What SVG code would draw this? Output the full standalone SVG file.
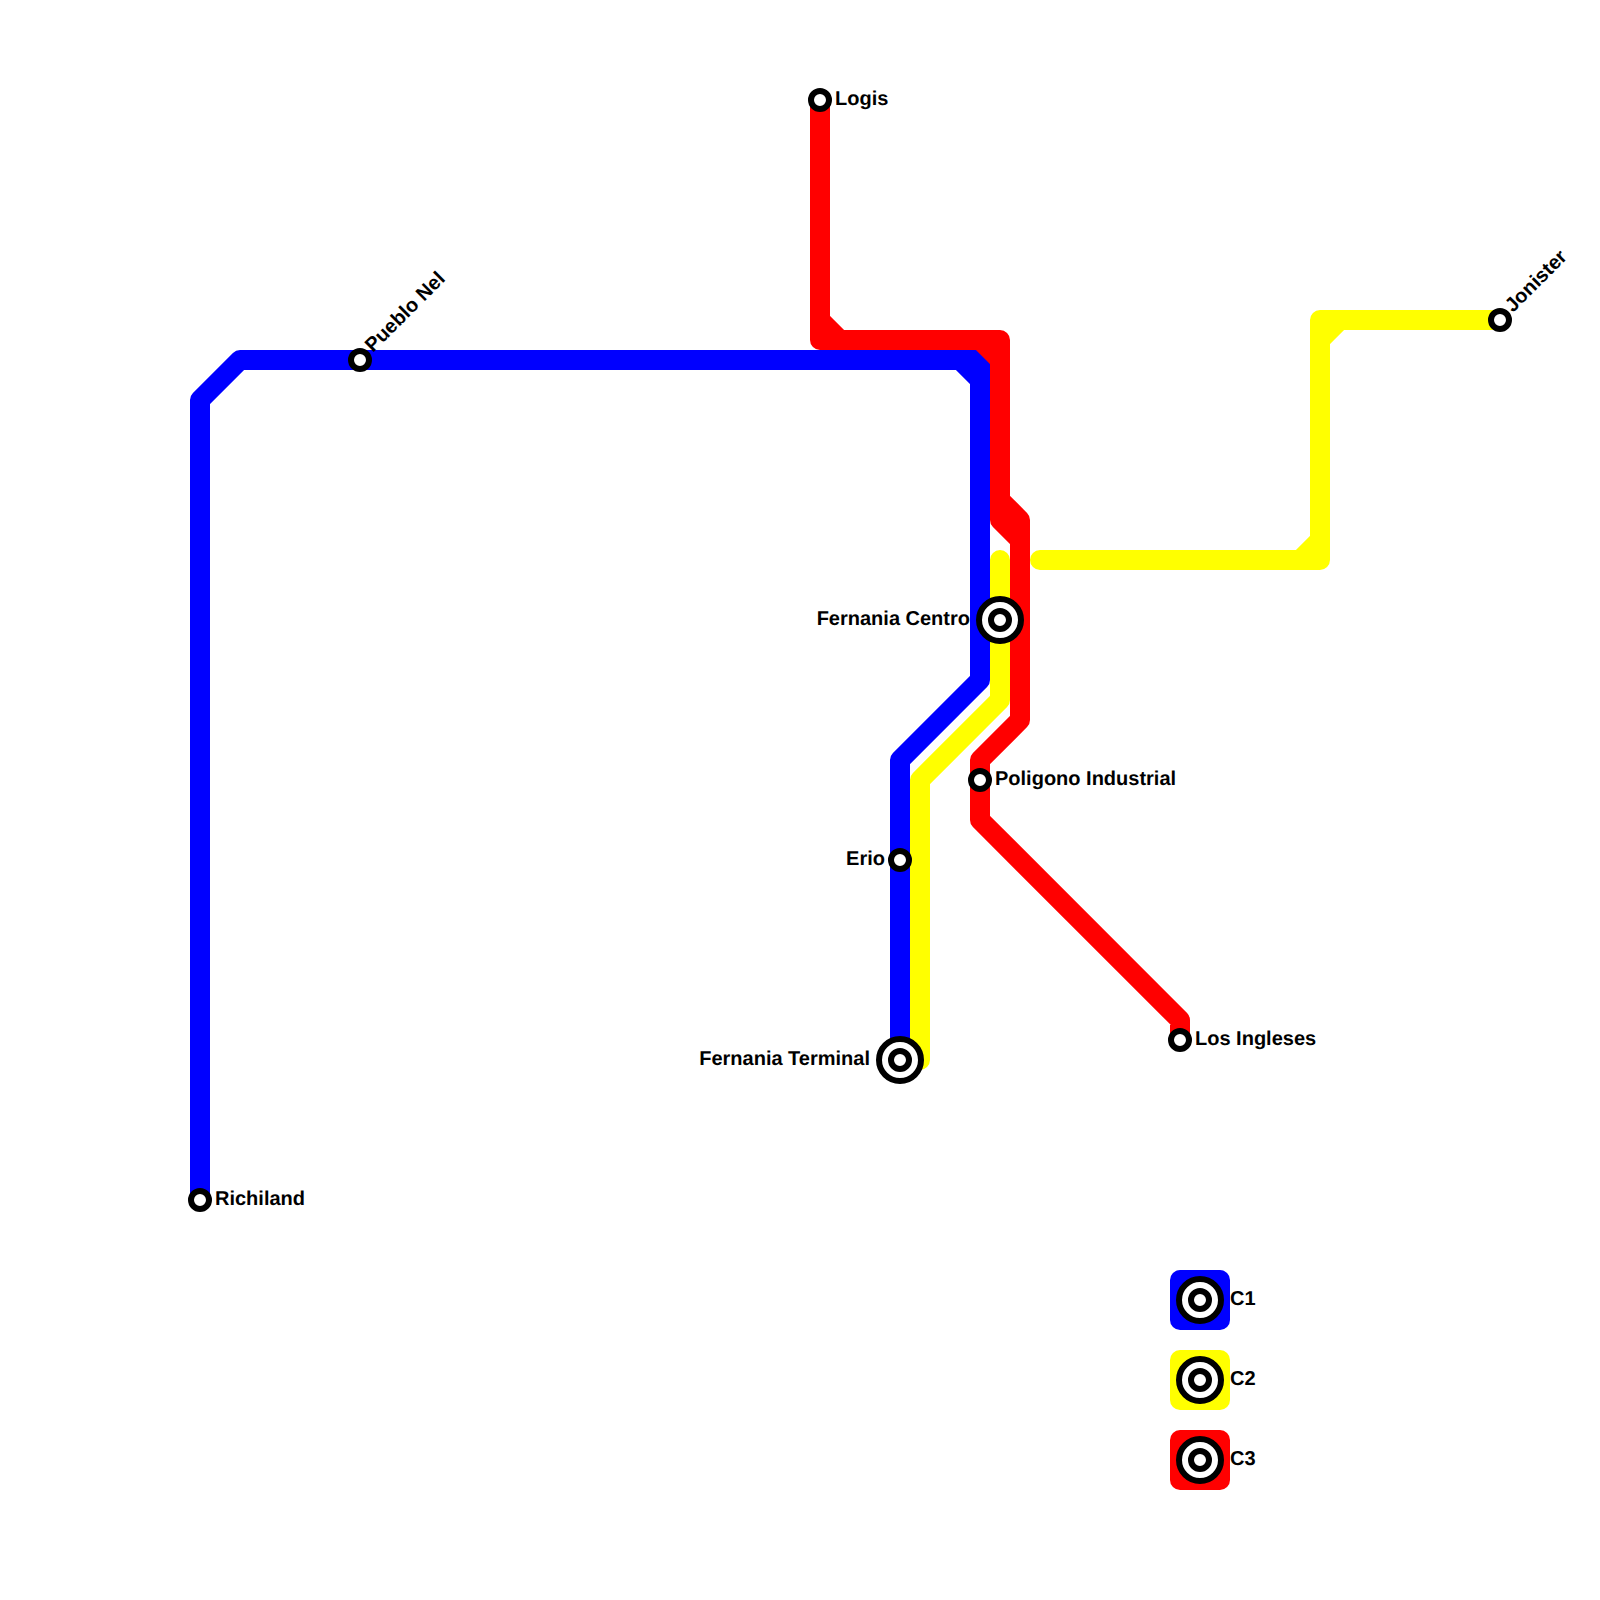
<svg xmlns="http://www.w3.org/2000/svg" width="1600" height="1600" viewBox="0 0 1600 1600">
<style>
.l{fill:none;stroke-width:20;stroke-linejoin:round;stroke-linecap:round}
.b{stroke:#00f}.y{stroke:#ff0}.r{stroke:#f00}
.o{fill:#fff;stroke:#000;stroke-width:6}
text{font-family:"Liberation Sans",Arial,sans-serif;font-weight:bold;font-size:20px;fill:#000;text-rendering:geometricPrecision}
.e{text-anchor:end}
</style>
<defs>
<g id="s"><circle class="o" r="9"/></g>
<g id="h"><circle class="o" r="21"/><circle class="o" r="9"/></g>
</defs>
<rect width="1600" height="1600" fill="#fff"/>
<g id="connectors">
<path id="line-c1" class="l b" d="M200 1200V400L240 360H980V680L900 760V1060M960 360L980 380"/>
<path id="line-c2a" class="l y" d="M1040 560H1320V320H1500M1300 560L1320 540M1320 340L1340 320"/>
<path id="line-c2b" class="l y" d="M1000 560V700L920 780V1060"/>
<path id="line-c3" class="l r" d="M820 100V340H1000V520L1020 540V720L980 760V820L1180 1020V1040M820 320L840 340M980 340L1000 360M1000 500L1020 520V540"/>
</g>
<g id="richiland"><use href="#s" x="200" y="1200"/><text x="215" y="1205">Richiland</text></g>
<g id="pueblo-nel"><use href="#s" x="360" y="360"/><text transform="translate(373 353) rotate(-45)">Pueblo Nel</text></g>
<g id="logis"><use href="#s" x="820" y="100"/><text x="835" y="105">Logis</text></g>
<g id="fernania-centro"><use href="#h" x="1000" y="620"/><text class="e" x="970" y="625">Fernania Centro</text></g>
<g id="poligono"><use href="#s" x="980" y="780"/><text x="995" y="785">Poligono Industrial</text></g>
<g id="erio"><use href="#s" x="900" y="860"/><text class="e" x="885" y="865">Erio</text></g>
<g id="fernania-terminal"><use href="#h" x="900" y="1060"/><text class="e" x="870" y="1065">Fernania Terminal</text></g>
<g id="los-ingleses"><use href="#s" x="1180" y="1040"/><text x="1195" y="1045">Los Ingleses</text></g>
<g id="jonister"><use href="#s" x="1500" y="320"/><text transform="translate(1513 313) rotate(-45)">Jonister</text></g>
<g id="legend-c1"><rect x="1170" y="1270" width="60" height="60" rx="10" fill="#00f"/><use href="#h" x="1200" y="1300"/><text x="1230" y="1305">C1</text></g>
<g id="legend-c2"><rect x="1170" y="1350" width="60" height="60" rx="10" fill="#ff0"/><use href="#h" x="1200" y="1380"/><text x="1230" y="1385">C2</text></g>
<g id="legend-c3"><rect x="1170" y="1430" width="60" height="60" rx="10" fill="#f00"/><use href="#h" x="1200" y="1460"/><text x="1230" y="1465">C3</text></g>
</svg>
